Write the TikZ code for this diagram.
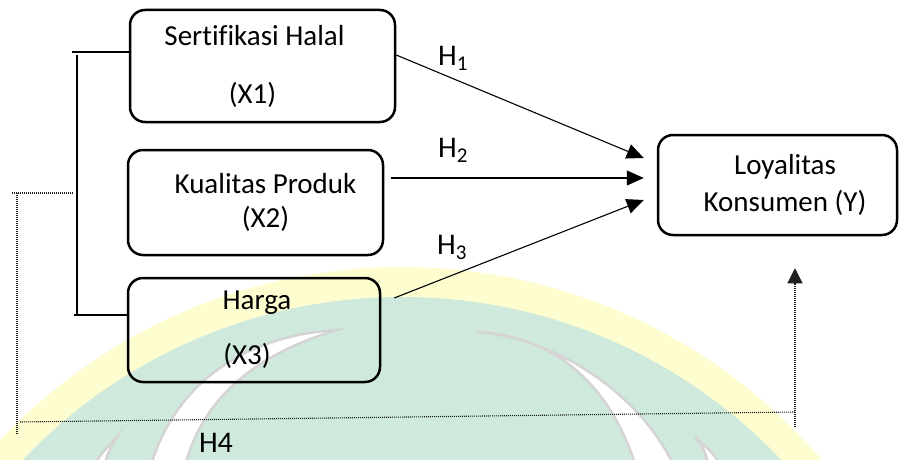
\documentclass[tikz,border=0pt]{standalone}
\usepackage{fontspec}
\setmainfont{Carlito}[Ligatures=NoCommon]
\usepackage{tikz}
\usetikzlibrary{arrows.meta}
\definecolor{wmgreen}{RGB}{207,234,220}
\definecolor{wmyellow}{RGB}{254,253,208}
\definecolor{wmgrey}{RGB}{212,212,212}
\definecolor{dotgrey}{RGB}{30,30,30}
\tikzstyle{varbox} = [rectangle, rounded corners=15pt, line width=2.5pt, draw=black, align=center, inner sep=0pt, font=\fontsize{29}{33}\selectfont]
\tikzstyle{hyp} = [inner sep=0pt, font=\fontsize{30}{34}\selectfont]
\tikzstyle{arrow} = [-{Triangle[length=17pt,width=15pt]}, line width=1.1pt]
\tikzstyle{bracket} = [line width=1.4pt]
\tikzstyle{dots} = [line width=1.1pt, draw=dotgrey, dash pattern=on 1pt off 1pt]
\tikzstyle{crescent} = [fill=white, draw=wmgrey, line width=2.5pt]

\begin{document}
\begin{tikzpicture}[x=1pt, y=-1pt]
		\useasboundingbox (0,0) rectangle (903,460);
		% watermark
		\begin{scope}
			\clip (0,0) rectangle (903,460);
			\fill[wmyellow] (402,820) circle (553);
			\fill[wmgreen] (402,820) circle (523);
			\draw[crescent] (477,332) .. controls (560,338) and (650,400) .. (680,480) -- (640,480) .. controls (610,370) and (540,335) .. (477,332) -- cycle;
			\draw[crescent] (337,330) .. controls (250,335) and (170,380) .. (147,480) -- (182,480) .. controls (198,390) and (270,350) .. (337,330) -- cycle;
			\draw[crescent] (695,437) .. controls (705,450) .. (712,480) -- (730,480) .. controls (715,455) .. (695,437) -- cycle;
			\draw[crescent] (117,437) .. controls (108,452) .. (100,480) -- (85,480) .. controls (100,455) .. (117,437) -- cycle;
		\end{scope}

		\node (x1) [varbox, minimum width=265pt, minimum height=112pt] at (262.5,66) {\hspace*{-16pt}Sertifikasi Halal\\[25pt]\hspace*{-20pt}(X1)};
		\node (x2) [varbox, minimum width=255pt, minimum height=105pt] at (255.5,202.5) {\hspace*{20pt}Kualitas Produk\\[1pt]\hspace*{20pt}(X2)};
		\node (x3) [varbox, minimum width=252pt, minimum height=104pt] at (254,330) {\hspace*{6pt}Harga\\[22pt]\hspace*{-14pt}(X3)};
		\node (ly) [varbox, minimum width=239pt, minimum height=100pt] at (777.5,185) {\hspace*{15pt}Loyalitas\\[4pt]\hspace*{15pt}Konsumen (Y)};

		\node (h1) [hyp] at (453,58) {H\textsubscript{1}};
		\node (h2) [hyp] at (453,150) {H\textsubscript{2}};
		\node (h3) [hyp] at (452,247) {H\textsubscript{3}};
		\node (h4) [hyp] at (216,443) {H4};

		\draw [arrow]([yshift=11pt]x1.east) -- ([xshift=-13pt, yshift=27pt]ly.west);
		\draw [arrow]([xshift=7pt, yshift=24.5pt]x2.east) -- ([xshift=-13pt, yshift=7pt]ly.west);
		\draw [arrow]([xshift=13pt, yshift=32pt]x3.east) -- ([xshift=-13pt, yshift=-15pt]ly.west);

		% bracket of the three variables
		\coordinate (bk1) at (72,52);
		\coordinate (bk2) at (77,55);
		\coordinate (bk3) at (77,315);
		\coordinate (bk4) at (74,315);
		\draw [bracket]([yshift=14pt]x1.west) -- (bk1);
		\draw [bracket](bk2) -- (bk3);
		\draw [bracket](bk4) -- ([yshift=15pt]x3.west);

		% simultaneous path H4
		\coordinate (d1) at (12,193);
		\coordinate (d2) at (73,193);
		\coordinate (d3) at (17,193);
		\coordinate (d4) at (17,435);
		\coordinate (d5) at (20,422);
		\coordinate (d6) at (795,412);
		\coordinate (d7) at (795,427);
		\draw [dots](d1) -- (d2);
		\draw [dots](d3) -- (d4);
		\draw [dots](d5) -- (d6);
		\draw [dots, -{Triangle[length=15pt,width=15pt]}](d7) -- ([xshift=17.5pt, yshift=-32pt]ly.south);
	\end{tikzpicture}
\end{document}
